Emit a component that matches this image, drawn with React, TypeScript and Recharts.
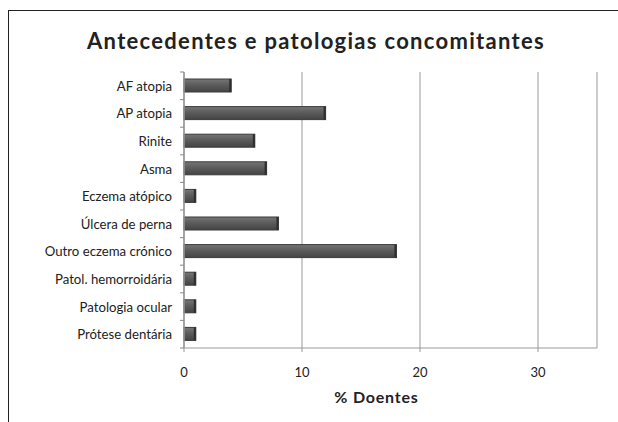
import React from "react";
import { BarChart, Bar, XAxis, YAxis, CartesianGrid, ReferenceLine } from "recharts";

const categories = [
  "AF atopia",
  "AP atopia",
  "Rinite",
  "Asma",
  "Eczema atópico",
  "Úlcera de perna",
  "Outro eczema crónico",
  "Patol. hemorroidária",
  "Patologia ocular",
  "Prótese dentária",
];
const doentes = [4, 12, 6, 7, 1, 8, 18, 1, 1, 1];
const xTicks = [0, 10, 20, 30];

const data = categories.map((name, i) => ({ name, value: doentes[i] }));

const FONT = "Lato, 'Open Sans', sans-serif";
const TOP = 72;
const BOTTOM = 348;
const AXIS_X = 184;
const BAND = (BOTTOM - TOP) / categories.length;

function CategoryTick(props: any) {
  const { y, payload, index } = props;
  const isLast = index === categories.length - 1;
  return (
    <g>
      <line x1={AXIS_X - 4} x2={AXIS_X} y1={y - BAND / 2} y2={y - BAND / 2} stroke="#888" />
      {isLast && <line x1={AXIS_X - 4} x2={AXIS_X} y1={y + BAND / 2} y2={y + BAND / 2} stroke="#888" />}
      <text x={AXIS_X - 12} y={y} dy={5} textAnchor="end" fill="#222" fontSize={13.2} fontFamily={FONT}>
        {payload.value}
      </text>
    </g>
  );
}

function BevelBar(props: any) {
  const { x, y, width, height } = props;
  if (width <= 0) return null;
  return (
    <g>
      <rect x={x} y={y} width={width} height={height} fill="url(#barGrad)" stroke="#3a3a3a" strokeWidth={1} />
      <rect x={x + width - 2} y={y} width={2} height={height} fill="#2f2f2f" />
    </g>
  );
}

export default function App() {
  return (
    <div style={{ position: "absolute", left: 0, top: 0, width: 618, height: 422, background: "#fff", overflow: "hidden" }}>
      <div
        style={{
          position: "absolute",
          left: 8,
          top: 10,
          width: 640,
          height: 440,
          borderTop: "1.5px solid #222",
          borderLeft: "1.5px solid #222",
        }}
      />
      <div
        style={{
          position: "absolute",
          left: 7,
          top: 27,
          width: 618,
          textAlign: "center",
          fontFamily: FONT,
          fontWeight: 700,
          fontSize: 22,
          letterSpacing: 1.3,
          color: "#222",
        }}
      >
        Antecedentes e patologias concomitantes
      </div>
      <BarChart
        width={618}
        height={422}
        data={data}
        layout="vertical"
        margin={{ top: TOP, right: 21, bottom: 0, left: 8 }}
      >
        <defs>
          <linearGradient id="barGrad" x1="0" y1="0" x2="0" y2="1">
            <stop offset="0%" stopColor="#767676" />
            <stop offset="45%" stopColor="#5c5c5c" />
            <stop offset="100%" stopColor="#444" />
          </linearGradient>
        </defs>
        <CartesianGrid horizontal={false} vertical={true} stroke="#999" strokeWidth={1} />
        <XAxis
          type="number"
          domain={[0, 35]}
          ticks={xTicks}
          axisLine={{ stroke: "#999" }}
          tickLine={{ stroke: "#999" }}
          tickSize={4}
          tick={{ fill: "#222", fontSize: 13, fontFamily: FONT, dy: 14 }}
          height={422 - BOTTOM}
          label={{ value: "% Doentes", position: "insideTop", offset: 44, dx: -14, fill: "#222", fontSize: 16, fontWeight: 700, letterSpacing: 0.8, fontFamily: FONT }}
        />
        <YAxis
          type="category"
          dataKey="name"
          width={176}
          axisLine={{ stroke: "#999" }}
          tickLine={false}
          tick={<CategoryTick />}
          interval={0}
        />
        <ReferenceLine x={0} stroke="#999" />
        <Bar dataKey="value" barSize={13} shape={<BevelBar />} isAnimationActive={false} />
      </BarChart>
    </div>
  );
}
